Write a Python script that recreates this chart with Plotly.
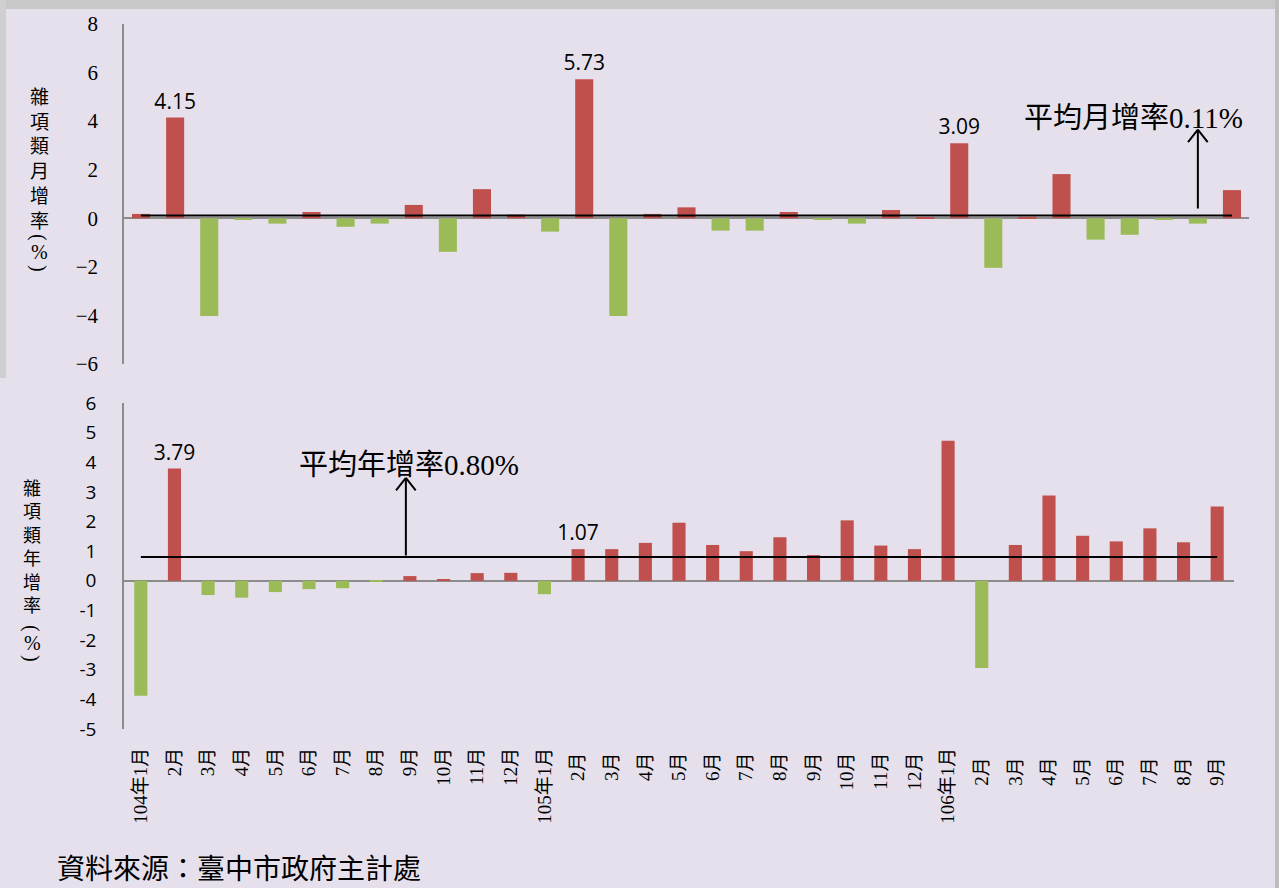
import plotly.graph_objects as go

# ---------------- data ----------------
categories = ["104年1月", "2月", "3月", "4月", "5月", "6月", "7月", "8月", "9月", "10月", "11月", "12月",
              "105年1月", "2月 ", "3月 ", "4月 ", "5月 ", "6月 ", "7月 ", "8月 ", "9月 ", "10月 ", "11月 ", "12月 ",
              "106年1月", "2月  ", "3月  ", "4月  ", "5月  ", "6月  ", "7月  ", "8月  ", "9月  "]

monthly_rate = [0.18, 4.15, -4.02, -0.03, -0.22, 0.26, -0.35, -0.22, 0.55, -1.38, 1.20, 0.15,
                -0.55, 5.73, -4.02, 0.18, 0.45, -0.51, -0.51, 0.26, -0.03, -0.22, 0.34, 0.05,
                3.09, -2.04, 0.06, 1.82, -0.88, -0.68, -0.07, -0.22, 1.16]

annual_rate = [-3.88, 3.79, -0.48, -0.57, -0.38, -0.28, -0.25, -0.01, 0.16, 0.03, 0.26, 0.27,
               -0.45, 1.07, 1.07, 1.28, 1.96, 1.21, 1.00, 1.47, 0.87, 2.04, 1.19, 1.07,
               4.73, -2.94, 1.21, 2.88, 1.52, 1.33, 1.77, 1.30, 2.51]

monthly_labelled = [1, 13, 24]
annual_labelled = [1, 13]

monthly_avg = 0.11
annual_avg = 0.80

monthly_ticks = [-6, -4, -2, 0, 2, 4, 6, 8]
annual_ticks = [-5, -4, -3, -2, -1, 0, 1, 2, 3, 4, 5, 6]
annual_ticktext = ["-5", "-4", "-3", "-2", "-1", "0", "1", "2", "3", "4", "5", "6"]

monthly_title = "雜項類月增率"
annual_title = "雜項類年增率"
monthly_note = "平均月增率0.11%"
annual_note = "平均年增率0.80%"
source_note = "資料來源：臺中市政府主計處"

# ---------------- style ----------------
W, H = 1279, 888
RED = "#C0504D"
GREEN = "#9BBB59"
BG = "#E6E0EC"
AXIS = "#8C8C8C"
SERIF = "Liberation Serif, DejaVu Serif, Noto Sans CJK TC, serif"
CJK = "Noto Sans CJK TC, sans-serif"
SANS = "Open Sans, Liberation Sans, sans-serif"


def px_x(v):
    return v / W


def px_y(v):
    return 1 - v / H


def colors(vals):
    return [RED if v >= 0 else GREEN for v in vals]


def labels(vals, idx):
    return [f"{v:.2f}" if i in idx else "" for i, v in enumerate(vals)]


fig = go.Figure()

# top: monthly rate
fig.add_trace(go.Bar(
    x=categories, y=monthly_rate, marker=dict(color=colors(monthly_rate), line=dict(width=0)),
    width=0.53, text=labels(monthly_rate, monthly_labelled), textposition="outside",
    constraintext="none",
    textfont=dict(family=SANS, size=21, color="black"), cliponaxis=False,
    xaxis="x", yaxis="y", showlegend=False, hoverinfo="skip"))
fig.add_trace(go.Scatter(
    x=categories, y=[monthly_avg] * len(categories), mode="lines",
    line=dict(color="black", width=2), xaxis="x", yaxis="y", showlegend=False, hoverinfo="skip"))

# bottom: annual rate
fig.add_trace(go.Bar(
    x=categories, y=annual_rate, marker=dict(color=colors(annual_rate), line=dict(width=0)),
    width=0.39, text=labels(annual_rate, annual_labelled), textposition="outside",
    constraintext="none",
    textfont=dict(family=SANS, size=21, color="black"), cliponaxis=False,
    xaxis="x2", yaxis="y2", showlegend=False, hoverinfo="skip"))
fig.add_trace(go.Scatter(
    x=categories, y=[annual_avg] * len(categories), mode="lines",
    line=dict(color="black", width=2), xaxis="x2", yaxis="y2", showlegend=False, hoverinfo="skip"))

common_x = dict(type="category", showgrid=False, showline=False, zeroline=False, ticks="",
                categoryorder="array", categoryarray=categories, fixedrange=True, automargin=False)

fig.update_layout(
    width=W, height=H, autosize=False,
    margin=dict(l=0, r=0, t=0, b=0, pad=0),
    paper_bgcolor=BG, plot_bgcolor=BG,
    bargap=0.4,
    xaxis=dict(domain=[px_x(124), px_x(1249)], anchor="y", showticklabels=False, **common_x),
    yaxis=dict(domain=[px_y(364), px_y(24)], anchor="x", range=[-6, 8], tickvals=monthly_ticks,
               showgrid=False, showline=True, linecolor=AXIS, linewidth=1.5, automargin=False,
               zeroline=True, zerolinecolor=AXIS, zerolinewidth=2, ticks="",
               ticklabelstandoff=20, tickfont=dict(family=SERIF, size=21, color="black")),
    xaxis2=dict(domain=[px_x(124), px_x(1234)], anchor="y2", showticklabels=True, tickangle=-90,
                ticklabelstandoff=14, tickfont=dict(family=SERIF, size=19, color="black"), **common_x),
    yaxis2=dict(domain=[px_y(729), px_y(403)], anchor="x2", range=[-5, 6], tickvals=annual_ticks,
                ticktext=annual_ticktext, automargin=False,
                showgrid=False, showline=True, linecolor=AXIS, linewidth=1.5,
                zeroline=True, zerolinecolor=AXIS, zerolinewidth=2, ticks="",
                ticklabelstandoff=22, tickfont=dict(family=SANS, size=19, color="black")),
)

# frame edges (shadows of the original panels)
shapes = [
    dict(type="rect", xref="paper", yref="paper", x0=0, x1=1, y0=px_y(9), y1=1,
         fillcolor="#C8C8C8", line=dict(width=0), layer="below"),
    dict(type="rect", xref="paper", yref="paper", x0=0, x1=px_x(6), y0=px_y(378), y1=1,
         fillcolor="#CFCFCF", line=dict(width=0), layer="below"),
    dict(type="rect", xref="paper", yref="paper", x0=px_x(1275), x1=1, y0=0, y1=1,
         fillcolor="#BDBDBD", line=dict(width=0), layer="below"),
]
fig.update_layout(shapes=shapes)

ann = []


def arrow(xref, yref, x, y_head, y_tail):
    ann.append(dict(x=x, y=y_head, ax=x, ay=y_tail, xref=xref, yref=yref, axref=xref, ayref=yref,
                    showarrow=True, arrowhead=0, arrowwidth=2, arrowcolor="black", text="", standoff=0))
    for dx in (-11, 11):
        ann.append(dict(x=x, y=y_head, ax=dx, ay=14, xref=xref, yref=yref,
                        showarrow=True, arrowhead=0, arrowwidth=2, arrowcolor="black", text="", standoff=0))


arrow("x", "y", 31, 3.65, 0.34)
arrow("x2", "y2", 7.88, 3.47, annual_avg)

# notes
ann.append(dict(x=px_x(1133), y=px_y(118), xref="paper", yref="paper", text=monthly_note,
                showarrow=False, font=dict(family=SERIF, size=29, color="black"),
                xanchor="center", yanchor="middle"))
ann.append(dict(x=px_x(409), y=px_y(465), xref="paper", yref="paper", text=annual_note,
                showarrow=False, font=dict(family=SERIF, size=29, color="black"),
                xanchor="center", yanchor="middle"))


def vertical_title(chars, xc, y_first, size, yp):
    step = size * 1.3
    yc = y_first + step * (len(chars) - 1) / 2
    ann.append(dict(x=px_x(xc), y=px_y(yc), xref="paper", yref="paper", text="<br>".join(chars),
                    showarrow=False, font=dict(family=CJK, size=size, color="black"),
                    xanchor="center", yanchor="middle"))
    for txt, yy, ang in (("(", yp[0], 90), ("%", yp[1], 0), (")", yp[2], 90)):
        ann.append(dict(x=px_x(xc), y=px_y(yy), xref="paper", yref="paper", text=txt, textangle=ang,
                        showarrow=False, font=dict(family=SERIF, size=20, color="black"),
                        xanchor="center", yanchor="middle"))


vertical_title(monthly_title, 39, 96, 19, (237, 252, 268))
vertical_title(annual_title, 32, 487, 18, (628, 643, 658))

# source
ann.append(dict(x=px_x(55), y=px_y(867), xref="paper", yref="paper", text=source_note,
                showarrow=False, font=dict(family=CJK, size=28, color="black"),
                xanchor="left", yanchor="middle"))
fig.update_layout(annotations=ann)

fig.write_html("out.html", config={"displayModeBar": False},
               post_script="document.body.style.margin='0';document.body.style.background='%s';" % BG)
